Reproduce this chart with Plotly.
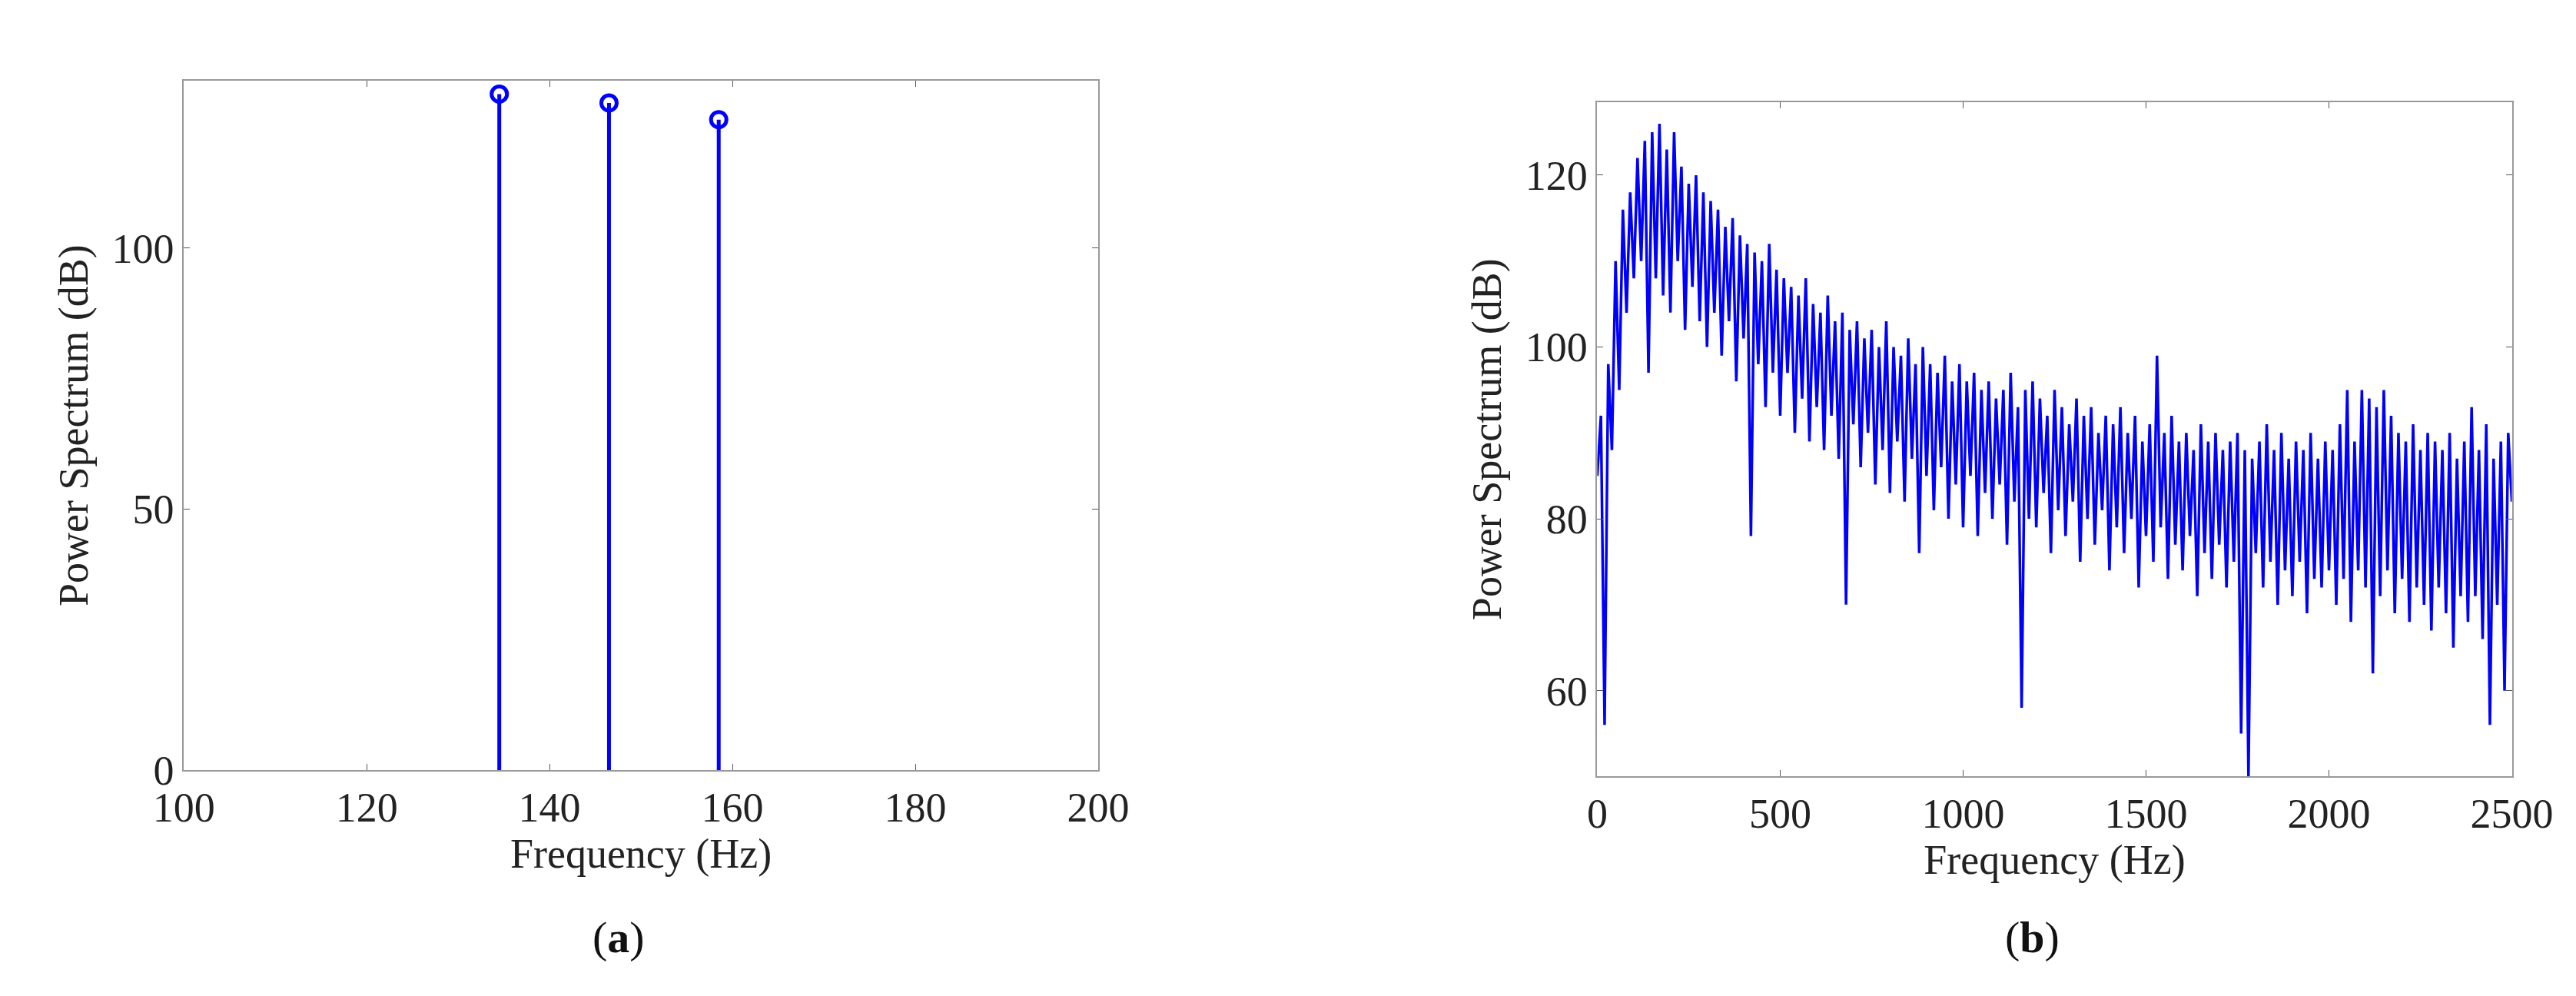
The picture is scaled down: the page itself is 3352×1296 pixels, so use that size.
import plotly.graph_objects as go
from plotly.subplots import make_subplots

# panel (a): stem frequencies and peak levels
stem_freq = [134.5, 146.5, 158.5]
stem_db = [129.5, 127.8, 124.6]

# panel (b): spectrum, every 10 Hz
spec_freq = list(range(0, 2510, 10))
spec_db = [
    85, 92, 56, 98, 88, 110, 95, 116, 104, 118,
    108, 122, 110, 124, 97, 125, 108, 126, 106, 123,
    104, 125, 110, 121, 102, 119, 107, 120, 103, 118,
    100, 117, 104, 116, 99, 114, 103, 115, 96, 113,
    101, 112, 78, 111, 98, 110, 93, 112, 97, 109,
    92, 108, 97, 107, 90, 106, 94, 108, 89, 105,
    93, 104, 88, 106, 92, 103, 87, 104, 70, 102,
    91, 103, 86, 101, 90, 102, 84, 100, 88, 103,
    83, 100, 89, 99, 82, 101, 87, 98, 76, 100,
    85, 98, 81, 97, 86, 99, 80, 96, 84, 98,
    79, 96, 85, 97, 78, 95, 83, 96, 80, 94,
    84, 95, 77, 97, 82, 93, 58, 95, 80, 96,
    79, 94, 83, 92, 76, 95, 81, 93, 78, 91,
    82, 94, 75, 92, 80, 93, 77, 90, 81, 92,
    74, 91, 79, 93, 76, 90, 80, 92, 72, 89,
    78, 91, 75, 99, 79, 90, 73, 92, 77, 89,
    74, 90, 78, 88, 71, 91, 76, 89, 73, 90,
    77, 88, 72, 89, 75, 90, 55, 88, 50, 87,
    76, 89, 72, 91, 75, 88, 70, 90, 74, 87,
    71, 89, 75, 88, 69, 90, 73, 87, 72, 89,
    74, 88, 70, 91, 73, 95, 68, 89, 74, 95,
    72, 94, 62, 93, 71, 95, 74, 92, 69, 90,
    73, 89, 68, 91, 72, 88, 70, 90, 67, 89,
    72, 88, 69, 90, 65, 87, 71, 89, 68, 93,
    71, 88, 66, 91, 56, 87, 70, 89, 60, 90,
    82,
]

blue = "#0000ff"
font = "Liberation Serif"

fig = make_subplots(rows=1, cols=2)

# stems
for f, d in zip(stem_freq, stem_db):
    fig.add_trace(go.Scatter(x=[f, f], y=[0, d], mode="lines",
                             line=dict(color=blue, width=5), showlegend=False), 1, 1)
fig.add_trace(go.Scatter(x=stem_freq, y=stem_db, mode="markers",
                         marker=dict(symbol="circle-open", size=20, color=blue,
                                     line=dict(width=5)),
                         showlegend=False), 1, 1)

fig.add_trace(go.Scatter(x=spec_freq, y=spec_db, mode="lines",
                         line=dict(color=blue, width=3.5), showlegend=False), 1, 2)

ax = dict(showgrid=False, zeroline=False, showline=True, linecolor="#999999",
          linewidth=2, mirror="ticks", ticks="inside", ticklen=8, tickcolor="#555",
          tickfont=dict(family=font, size=54, color="#222"),
          title_font=dict(family=font, size=54, color="#222"))

fig.update_xaxes(ax)
fig.update_yaxes(ax)
fig.update_xaxes(range=[100, 200], dtick=20, title_text="Frequency (Hz)",
                 domain=[0.0584, 0.4237], row=1, col=1)
fig.update_yaxes(range=[0, 132], tickvals=[0, 50, 100], title_text="Power Spectrum (dB)",
                 domain=[0.2143, 0.923], row=1, col=1)
fig.update_xaxes(range=[0, 2500], dtick=500, title_text="Frequency (Hz)",
                 domain=[0.6231, 0.9885], row=1, col=2)
fig.update_yaxes(range=[50, 128.5], tickvals=[60, 80, 100, 120],
                 title_text="Power Spectrum (dB)", domain=[0.2076, 0.9012], row=1, col=2)
fig.update_xaxes(title_standoff=4)
fig.update_yaxes(title_standoff=14)

fig.update_layout(
    width=3352, height=1296, plot_bgcolor="white", paper_bgcolor="white",
    margin=dict(l=0, r=0, t=0, b=0),
    annotations=[
        dict(text="(<b>a</b>)", x=0.221, y=0.015, xref="paper", yref="paper",
             showarrow=False, font=dict(family=font, size=58, color="#111")),
        dict(text="(<b>b</b>)", x=0.8085, y=0.015, xref="paper", yref="paper",
             showarrow=False, font=dict(family=font, size=58, color="#111")),
    ],
)

fig.write_html("out.html")
